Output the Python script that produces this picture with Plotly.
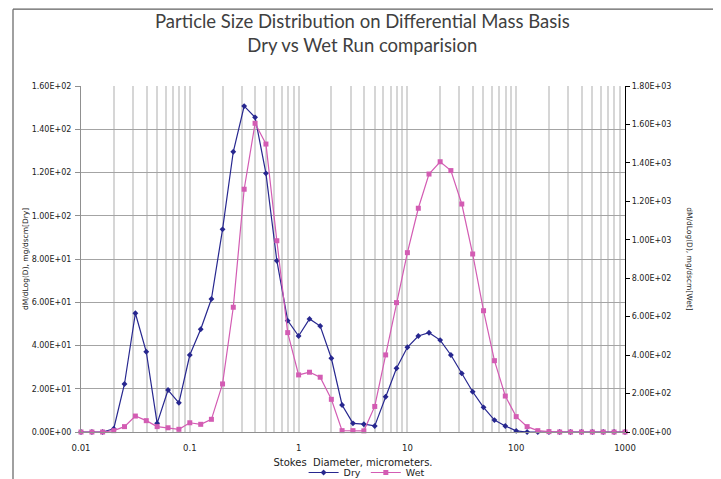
import plotly.graph_objects as go

diameter = [0.01, 0.0126, 0.0158, 0.02, 0.0251, 0.0316, 0.0398, 0.0501, 0.0631, 0.0794,
            0.1, 0.126, 0.158, 0.2, 0.251, 0.316, 0.398, 0.501, 0.631, 0.794,
            1, 1.26, 1.58, 2, 2.51, 3.16, 3.98, 5.01, 6.31, 7.94,
            10, 12.6, 15.8, 20, 25.1, 31.6, 39.8, 50.1, 63.1, 79.4,
            100, 126, 158, 200, 251, 316, 398, 501, 631, 794, 1000]

dry = [0, 0, 0, 1.5, 22.2, 54.9, 37.1, 4.0, 19.4, 13.5,
       35.6, 47.5, 61.5, 93.7, 129.6, 150.7, 145.5, 119.6, 79.2, 51.5,
       44.4, 52.3, 49.0, 34.1, 12.5, 4.0, 3.6, 2.8, 16.3, 29.5,
       39.2, 44.4, 45.9, 42.5, 35.6, 27.1, 18.6, 11.4, 5.5, 2.8,
       0.5, 0, 0, 0, 0, 0, 0, 0, 0, 0, 0]

wet = [0, 0, 0, 7, 28, 83, 59, 28, 22, 14,
       48, 40, 66, 250, 649, 1263, 1606, 1498, 995, 517,
       297, 311, 285, 170, 7, 7, 6, 133, 401, 673,
       933, 1164, 1342, 1406, 1360, 1186, 926, 631, 371, 187,
       80, 28, 7, 2, 0, 0, 0, 0, 0, 0, 0]

x_tickvals = [0.01, 0.1, 1, 10, 100, 1000]
x_ticktext = ["0.01", "0.1", "1", "10", "100", "1000"]
left_tickvals = [0, 20, 40, 60, 80, 100, 120, 140, 160]
left_ticktext = ["0.00E+00", "2.00E+01", "4.00E+01", "6.00E+01", "8.00E+01",
                 "1.00E+02", "1.20E+02", "1.40E+02", "1.60E+02"]
right_tickvals = [0, 200, 400, 600, 800, 1000, 1200, 1400, 1600, 1800]
right_ticktext = ["0.00E+00", "2.00E+02", "4.00E+02", "6.00E+02", "8.00E+02",
                  "1.00E+03", "1.20E+03", "1.40E+03", "1.60E+03", "1.80E+03"]

fig = go.Figure()
fig.add_trace(go.Scatter(
    x=diameter, y=dry, name="Dry", mode="lines+markers", yaxis="y",
    line=dict(color="#27278f", width=1.2),
    marker=dict(symbol="diamond", size=4.5, color="#27278f"),
    cliponaxis=False))
fig.add_trace(go.Scatter(
    x=diameter, y=wet, name="Wet", mode="lines+markers", yaxis="y2",
    line=dict(color="#d35cb3", width=1.2),
    marker=dict(symbol="square", size=5, color="#d35cb3"),
    cliponaxis=False))

tickfont = dict(family="DejaVu Sans", size=8, color="#222222")

fig.update_layout(
    width=721, height=479,
    margin=dict(l=73, r=104, t=78, b=55, autoexpand=False),
    paper_bgcolor="white", plot_bgcolor="white",
    showlegend=True,
    legend=dict(orientation="h", x=0.525, xanchor="center", y=-0.117, yanchor="middle",
                font=dict(family="DejaVu Sans", size=9.5, color="#222222"),
                itemwidth=30, tracegroupgap=0, bgcolor="rgba(0,0,0,0)"),
    xaxis=dict(type="log", range=[-2, 3], tickvals=x_tickvals, ticktext=x_ticktext,
               tickfont=dict(family="DejaVu Sans", size=8.5, color="#222222"),
               showgrid=True, gridcolor="#d6d6d6", gridwidth=1.5,
               minor=dict(dtick="D1", showgrid=True, gridcolor="#d6d6d6", gridwidth=1.5),
               showline=True, linecolor="#909090", linewidth=1,
               zeroline=False, ticks="", ticklabelstandoff=8,
               title=dict(text="Stokes  Diameter, micrometers.", standoff=6,
                          font=dict(family="DejaVu Sans", size=10, color="#222222"))),
    yaxis=dict(range=[0, 160], tickvals=left_tickvals, ticktext=left_ticktext,
               tickfont=tickfont, showgrid=True, gridcolor="#a4a4a4", gridwidth=1.4,
               showline=True, linecolor="#909090", linewidth=1,
               ticks="outside", ticklen=5, tickcolor="#909090",
               ticklabelstandoff=2, zeroline=False),
    yaxis2=dict(range=[0, 1800], tickvals=right_tickvals, ticktext=right_ticktext,
                tickfont=tickfont, overlaying="y", side="right", showgrid=False,
                showline=True, linecolor="#000000", linewidth=1.2,
                ticks="outside", ticklen=4, tickcolor="#000000", zeroline=False),
    annotations=[
        dict(text="Particle Size Distribution on Differential Mass Basis<br>Dry vs Wet Run comparision",
             xref="paper", yref="paper", x=0.517, y=1.153, xanchor="center", yanchor="middle",
             showarrow=False, font=dict(family="Lato", size=18.5, color="#404040")),
        dict(text="dM/dLog(D), mg/dscm[Dry]", xref="paper", yref="paper",
             x=-0.103, y=0.5, xanchor="center", yanchor="middle", textangle=-90, showarrow=False,
             font=dict(family="DejaVu Sans", size=7.5, color="#222222")),
        dict(text="dM/dLog(D), mg/dscm[Wet]", xref="paper", yref="paper",
             x=1.119, y=0.5, xanchor="center", yanchor="middle", textangle=90, showarrow=False,
             font=dict(family="DejaVu Sans", size=7.5, color="#222222")),
    ],
    shapes=[
        dict(type="line", xref="paper", yref="paper", x0=-0.125, x1=-0.125, y0=1.222, y1=-0.2,
             line=dict(color="#808080", width=1.5)),
        dict(type="line", xref="paper", yref="paper", x0=-0.125, x1=1.25, y0=1.222, y1=1.222,
             line=dict(color="#606060", width=1.2)),
    ],
)

fig.write_html("out.html")
